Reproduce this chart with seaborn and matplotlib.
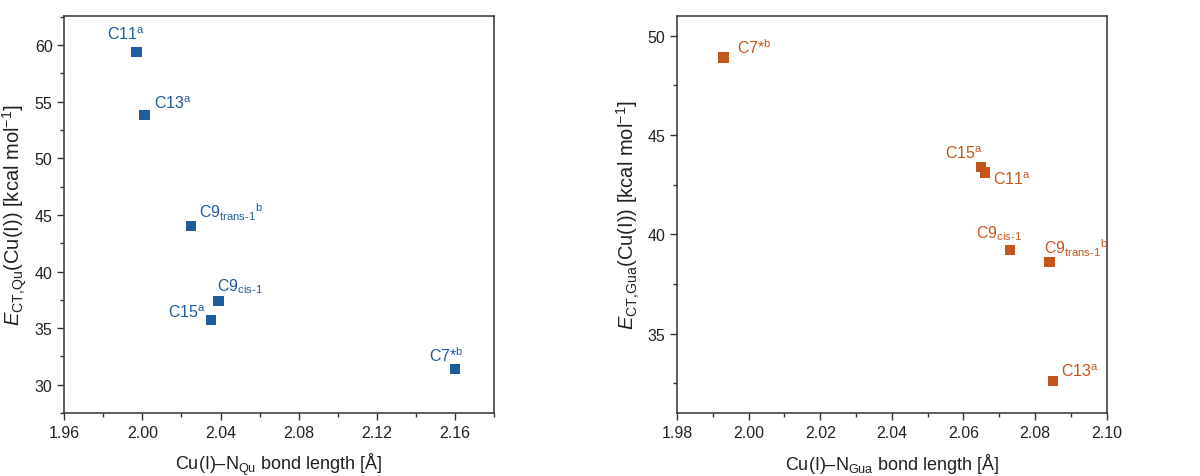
import matplotlib
matplotlib.use("Agg")
import matplotlib.pyplot as plt
from matplotlib.ticker import MultipleLocator, FormatStrFormatter
import seaborn as sns
import pandas as pd

sns.set_theme(style="ticks")
plt.rcParams["font.family"] = ["Liberation Sans", "DejaVu Sans"]
plt.rcParams["mathtext.fontset"] = "custom"
plt.rcParams["mathtext.rm"] = "Liberation Sans"
plt.rcParams["mathtext.it"] = "Liberation Sans:italic"
plt.rcParams["mathtext.bf"] = "Liberation Sans:bold"

# Complex labels (mathtext)
labels_qu = ["C11$^\\mathregular{a}$", "C13$^\\mathregular{a}$",
             "C9$_\\mathregular{trans‐1}$$^\\mathregular{b}$",
             "C9$_\\mathregular{cis‐1}$", "C15$^\\mathregular{a}$",
             "C7*$^\\mathregular{b}$"]
bond_qu = [1.997, 2.001, 2.025, 2.039, 2.035, 2.160]
energy_qu = [59.4, 53.8, 44.0, 37.4, 35.7, 31.4]

labels_gua = ["C7*$^\\mathregular{b}$", "C15$^\\mathregular{a}$",
              "C11$^\\mathregular{a}$", "C9$_\\mathregular{cis‐1}$",
              "C9$_\\mathregular{trans‐1}$$^\\mathregular{b}$",
              "C13$^\\mathregular{a}$"]
bond_gua = [1.993, 2.065, 2.066, 2.073, 2.084, 2.085]
energy_gua = [48.9, 43.4, 43.1, 39.2, 38.6, 32.6]

# label offsets in pixels (dx, dy) and horizontal alignment
offsets_qu = [(-30, 13, "left"), (10, 7, "left"), (8, 9, "left"),
              (-2, 11, "left"), (-5, 3, "right"), (-26, 8, "left")]
offsets_gua = [(13, 4, "left"), (1, 9, "right"), (8, -11, "left"),
               (-34, 13, "left"), (-5, 9, "left"), (8, 5, "left")]

BLUE = "#1f5c9c"
ORANGE = "#c4561c"

df_qu = pd.DataFrame({"bond": bond_qu, "energy": energy_qu, "label": labels_qu})
df_gua = pd.DataFrame({"bond": bond_gua, "energy": energy_gua, "label": labels_gua})

fig = plt.figure(figsize=(12, 4.77), dpi=100)
ax1 = fig.add_axes([0.0536, 0.132, 0.358, 0.833])
ax2 = fig.add_axes([0.5642, 0.132, 0.358, 0.833])


def draw(ax, df, offsets, color, xlim, ylim, xmaj, ymaj, xlabel, ylabel):
    sns.scatterplot(data=df, x="bond", y="energy", ax=ax, marker="s", s=55,
                    color=color, edgecolor="none", linewidth=0, zorder=3)
    for (_, row), (dx, dy, ha) in zip(df.iterrows(), offsets):
        ax.annotate(row["label"], (row["bond"], row["energy"]),
                    xytext=(dx, dy), textcoords="offset pixels",
                    ha=ha, va="baseline", color=color, fontsize=11.5)
    ax.set_xlim(*xlim)
    ax.set_ylim(*ylim)
    ax.xaxis.set_major_locator(MultipleLocator(xmaj))
    ax.xaxis.set_minor_locator(MultipleLocator(xmaj / 2))
    ax.yaxis.set_major_locator(MultipleLocator(ymaj))
    ax.yaxis.set_minor_locator(MultipleLocator(ymaj / 2))
    ax.xaxis.set_major_formatter(FormatStrFormatter("%.2f"))
    ax.tick_params(axis="both", which="major", direction="out", length=5,
                   width=1, labelsize=11.5, color="#333333", labelcolor="#222222")
    ax.tick_params(axis="both", which="minor", direction="out", length=3,
                   width=1, color="#333333")
    for sp in ax.spines.values():
        sp.set_color("#333333")
        sp.set_linewidth(1.1)
    ax.set_xlabel(xlabel, fontsize=13, color="#222222", labelpad=8)
    ax.set_ylabel(ylabel, fontsize=14.5, color="#222222", labelpad=4)


draw(ax1, df_qu, offsets_qu, BLUE, (1.96, 2.18), (27.5, 62.6), 0.04, 5,
     "Cu(I)–N$_\\mathregular{Qu}$ bond length [Å]",
     "$E$$_\\mathregular{CT{,}Qu}$(Cu(I)) [kcal mol$^\\mathregular{-1}$]")
draw(ax2, df_gua, offsets_gua, ORANGE, (1.98, 2.10), (31.0, 51.0), 0.02, 5,
     "Cu(I)–N$_\\mathregular{Gua}$ bond length [Å]",
     "$E$$_\\mathregular{CT{,}Gua}$(Cu(I)) [kcal mol$^\\mathregular{-1}$]")

fig.savefig("out.png", dpi=100, facecolor="white")
